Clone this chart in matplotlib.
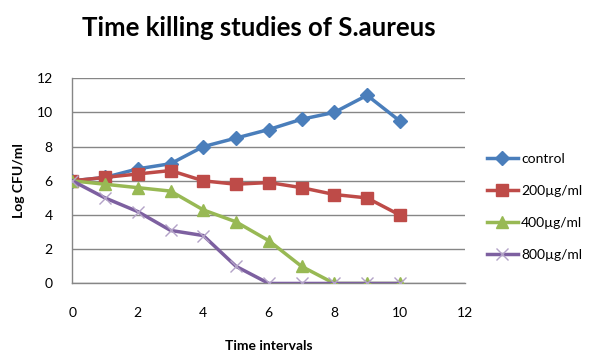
import matplotlib
matplotlib.use("Agg")
import matplotlib.pyplot as plt

time = [0, 1, 2, 3, 4, 5, 6, 7, 8, 9, 10]
control = [6.0, 6.2, 6.7, 7.0, 8.0, 8.5, 9.0, 9.6, 10.0, 11.0, 9.5]
c200 = [6.0, 6.2, 6.4, 6.6, 6.0, 5.8, 5.9, 5.6, 5.2, 5.0, 4.0]
c400 = [6.0, 5.8, 5.6, 5.4, 4.3, 3.6, 2.5, 1.0, 0.0, 0.0, 0.0]
c800 = [6.0, 5.0, 4.2, 3.1, 2.8, 1.0, 0.0, 0.0, 0.0, 0.0, 0.0]
labels = ["control", "200µg/ml", "400µg/ml", "800µg/ml"]
xticks = [0, 2, 4, 6, 8, 10, 12]
yticks = [0, 2, 4, 6, 8, 10, 12]

plt.rcParams['font.family'] = ['Lato', 'DejaVu Sans']

fig = plt.figure(figsize=(6.0, 3.57), dpi=100)
ax = fig.add_axes([0.1205, 0.206, 0.655, 0.575])

colors = ["#4A7EBB", "#BE4B48", "#98B954", "#7D60A0"]
series = [control, c200, c400, c800]
markers = ["D", "s", "^", "x"]
msizes = [7, 9, 9, 9]
for s, c, m, ms, lab in zip(series, colors, markers, msizes, labels):
    if m == "x":
        ax.plot(time, s, color=c, lw=2.5, marker=m, ms=ms, mew=1,
                mec="#B3A2C7", label=lab, zorder=3)
    else:
        ax.plot(time, s, color=c, lw=2.5, marker=m, ms=ms, mec=c, label=lab, zorder=3)

ax.set_xlim(0, 12)
ax.set_ylim(0, 12)
ax.set_xticks(xticks)
ax.set_yticks(yticks)
ax.tick_params(length=0, labelsize=10, colors="#000000")
ax.tick_params(axis='x', pad=17)
ax.tick_params(axis='y', pad=14)
ax.grid(axis='y', color="#868686", lw=1)
ax.set_axisbelow(True)
for sp in ["top", "right"]:
    ax.spines[sp].set_visible(False)
for sp in ["left", "bottom"]:
    ax.spines[sp].set_color("#868686")
    ax.spines[sp].set_linewidth(1)

ax.set_xlabel("Time intervals", fontsize=10, fontweight="bold", labelpad=15)
ax.set_ylabel("Log CFU/ml", fontsize=10, fontweight="bold", labelpad=8)
fig.text(0.432, 0.922, "Time killing studies of S.aureus", ha="center", va="center",
         fontsize=18.5, fontweight="bold")

leg = fig.legend(loc="center left", bbox_to_anchor=(0.79, 0.42), frameon=False,
                 fontsize=10, handlelength=2.3, labelspacing=1.45, handletextpad=0.2)

fig.savefig("out.png", dpi=100)
